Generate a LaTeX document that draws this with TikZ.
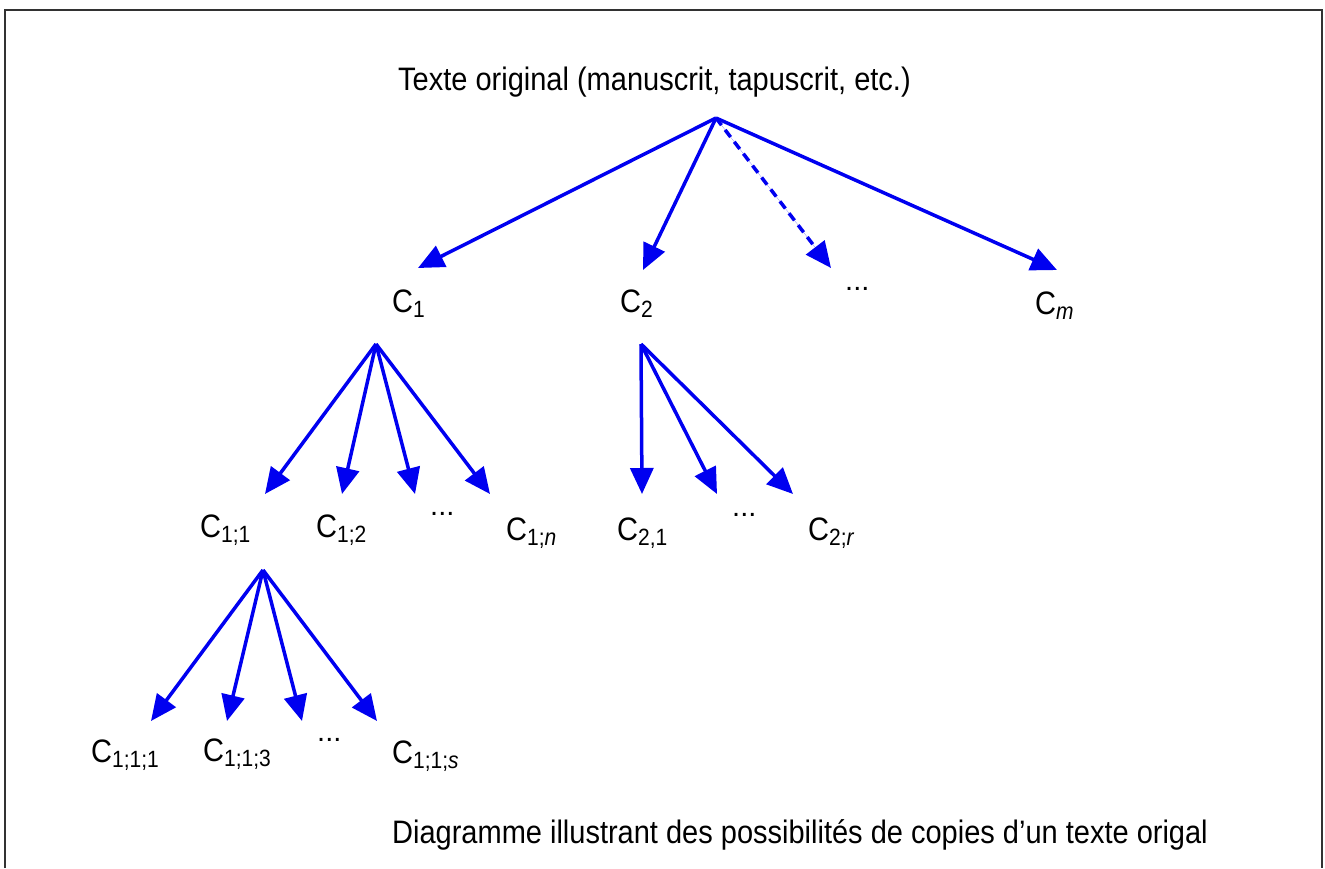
\documentclass[tikz,border=0pt]{standalone}
\usepackage{fontspec}
\usepackage{graphicx}
\setmainfont{Liberation Sans}
\usetikzlibrary{arrows.meta}
% slightly tall lettering
\newcommand\tall[1]{\scalebox{1}[1.12]{#1}}
\newcommand\csub[1]{\raisebox{-5pt}{\fontsize{21}{23}\selectfont #1}}
\definecolor{arrowblue}{RGB}{0,0,240}
\definecolor{framegray}{RGB}{50,50,50}
\tikzset{
  lbl/.style={anchor=base west, inner sep=0pt, font=\fontsize{29}{35}\selectfont},
  copyarrow/.style={draw=arrowblue, line width=3.5pt,
    -{Triangle[length=26pt,width=23pt]}, fill=arrowblue},
}
\begin{document}
\begin{tikzpicture}[x=1pt,y=-1pt]
\useasboundingbox (0,0) rectangle (1325,868);
% open frame (bottom edge lies below the page)
\draw[framegray, line width=2pt] (5,868) -- (5,10) -- (1322,10) -- (1322,868);

% labels
\node[lbl] (orig) at (398,90) {\tall{Texte original (manuscrit, tapuscrit, etc.)}};
\node[lbl] (c1) at (392,312) {\tall{C\csub{1}}};
\node[lbl] (c2) at (620,312) {\tall{C\csub{2}}};
\node[lbl] (cdots) at (845,290) {...};
\node[lbl] (cm) at (1035,314) {\tall{C\csub{\textit{m}}}};

\node[lbl] (c11) at (200,537) {\tall{C\csub{1;1}}};
\node[lbl] (c12) at (316,537) {\tall{C\csub{1;2}}};
\node[lbl] (c1dots) at (430,515) {...};
\node[lbl] (c1n) at (506,540) {\tall{C\csub{1;\textit{n}}}};
\node[lbl] (c21) at (617,540) {\tall{C\csub{2,1}}};
\node[lbl] (c2dots) at (732,516) {...};
\node[lbl] (c2r) at (808,540) {\tall{C\csub{2;\textit{r}}}};

\node[lbl] (c111) at (91,762) {\tall{C\csub{1;1;1}}};
\node[lbl] (c113) at (203,761) {\tall{C\csub{1;1;3}}};
\node[lbl] (c11dots) at (317,741) {...};
\node[lbl] (c11s) at (392,763) {\tall{C\csub{1;1;\textit{s}}}};

\node[lbl] (caption) at (392,843) {\tall{Diagramme illustrant des possibilités de copies d’un texte origal}};

% branching points and arrow tips
\coordinate (r0) at (716,118);
\coordinate (t1) at (418,268);
\coordinate (t2) at (643,270);
\coordinate (t3) at (831,268);
\coordinate (tm) at (1057,270);

\coordinate (r1) at (376,344);
\coordinate (t11) at (265,494);
\coordinate (t12) at (342,494);
\coordinate (t1d) at (415,494);
\coordinate (t1n) at (490,494);

\coordinate (r2) at (641,344);
\coordinate (t21) at (642,494);
\coordinate (t2d) at (717,494);
\coordinate (t2r) at (793,494);

\coordinate (r11) at (263,570);
\coordinate (t111) at (151,721);
\coordinate (t113) at (227,721);
\coordinate (t11d) at (302,721);
\coordinate (t11s) at (377,721);

% arrows
\draw[copyarrow] (r0) -- (t1);
\draw[copyarrow] (r0) -- (t2);
\draw[copyarrow, dash pattern=on 9pt off 6pt] (r0) -- (t3);
\draw[copyarrow] (r0) -- (tm);

\foreach \t in {t11,t12,t1d,t1n} \draw[copyarrow] (r1) -- (\t);
\foreach \t in {t21,t2d,t2r} \draw[copyarrow] (r2) -- (\t);
\foreach \t in {t111,t113,t11d,t11s} \draw[copyarrow] (r11) -- (\t);
\end{tikzpicture}
\end{document}
